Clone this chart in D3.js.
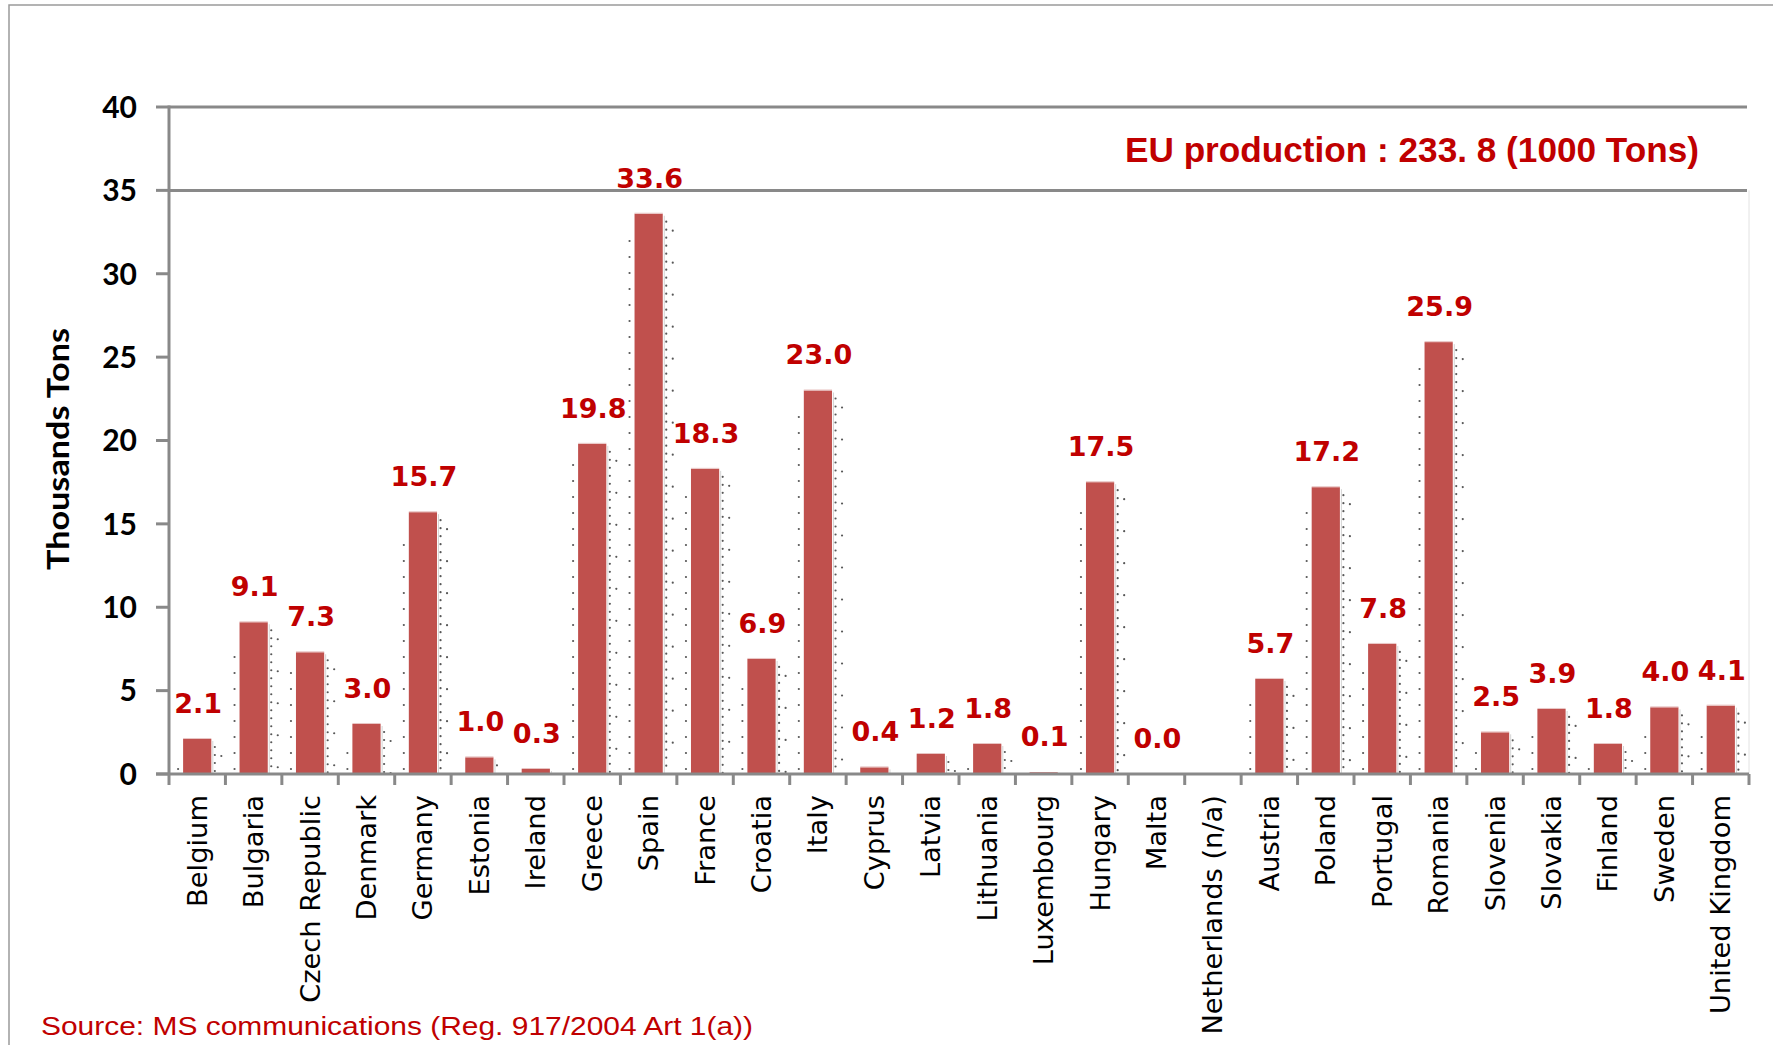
<!DOCTYPE html>
<html><head><meta charset="utf-8">
<script src="https://cdn.jsdelivr.net/npm/d3@7"></script>
<style>html,body{margin:0;padding:0;background:#fff;overflow:hidden}</style>
</head><body>
<svg id="chart" width="1773" height="1045"></svg>
<script>
const categories = ["Belgium","Bulgaria","Czech Republic","Denmark","Germany","Estonia","Ireland","Greece","Spain","France","Croatia","Italy","Cyprus","Latvia","Lithuania","Luxembourg","Hungary","Malta","Netherlands (n/a)","Austria","Poland","Portugal","Romania","Slovenia","Slovakia","Finland","Sweden","United Kingdom"];
const values = [2.1, 9.1, 7.3, 3.0, 15.7, 1.0, 0.3, 19.8, 33.6, 18.3, 6.9, 23.0, 0.4, 1.2, 1.8, 0.1, 17.5, 0.0, null, 5.7, 17.2, 7.8, 25.9, 2.5, 3.9, 1.8, 4.0, 4.1];
const yTicks = [0, 5, 10, 15, 20, 25, 30, 35, 40];
const gridValues = [35, 40];
const yTitle = "Thousands Tons";
const noteText = "EU production : 233. 8 (1000 Tons)";
const sourceText = "Source: MS communications (Reg. 917/2004 Art 1(a))";

const svg = d3.select("#chart");
const axisColor = "#898989";
const red = "#c00000";
const barColor = "#c0504d";

// frame
svg.append("rect").attr("x", 9).attr("y", 5).attr("width", 1800).attr("height", 1100)
  .attr("fill", "none").attr("stroke", "#9a9a9a").attr("stroke-width", 1.5);

const x = d3.scaleBand().domain(categories).range([169, 1749]).padding(0);
const y = d3.scaleLinear().domain([0, 40]).range([774, 107]);
const bw = x.bandwidth();
const barW = bw * 0.5;
const barX = c => x(c) + (bw - barW) / 2;

// faint plot-area right edge
svg.append("line").attr("x1", 1749).attr("x2", 1749).attr("y1", y(35)).attr("y2", y(0))
  .attr("stroke", "#e2e2e2").attr("stroke-width", 1);

// gridlines
svg.append("g").selectAll("line").data(gridValues).join("line")
  .attr("x1", 169).attr("x2", 1747).attr("y1", d => y(d)).attr("y2", d => y(d))
  .attr("stroke", axisColor).attr("stroke-width", 3);

// bars data
const data = categories.map((c, i) => ({c, v: values[i]})).filter(d => d.v !== null);

// dotted shadow artifacts
const dots = [];
data.forEach(d => {
  if (d.v < 0.2) return;
  const top = y(d.v), bot = y(0);
  const l = barX(d.c), r = l + barW;
  for (let yy = top + 8; yy < bot - 1; yy += 8) dots.push([r + 3.5, yy]);
  for (let yy = top + 17; yy < bot - 1; yy += 32) dots.push([r + 10, yy]);
  for (let yy = bot - 5; yy > top + 20; yy -= 16) dots.push([l - 5, yy]);
});
svg.append("g").selectAll("circle").data(dots).join("circle")
  .attr("cx", d => d[0]).attr("cy", d => d[1]).attr("r", 1.1)
  .attr("fill", "#3a3a3a").attr("opacity", 0.85);

// light edge right of bars
svg.append("g").selectAll("line").data(data.filter(d => d.v >= 0.2)).join("line")
  .attr("x1", d => barX(d.c) + barW + 1.5).attr("x2", d => barX(d.c) + barW + 1.5)
  .attr("y1", d => y(d.v) + 2).attr("y2", y(0))
  .attr("stroke", "#d4d4d4").attr("stroke-width", 1);

// bars
svg.append("g").selectAll("rect").data(data).join("rect")
  .attr("x", d => barX(d.c)).attr("width", barW)
  .attr("y", d => y(d.v)).attr("height", d => Math.max(0, y(0) - y(d.v)))
  .attr("fill", barColor);
// top light edge
svg.append("g").selectAll("line").data(data.filter(d => d.v >= 0.2)).join("line")
  .attr("x1", d => barX(d.c)).attr("x2", d => barX(d.c) + barW)
  .attr("y1", d => y(d.v) - 0.5).attr("y2", d => y(d.v) - 0.5)
  .attr("stroke", "#e8c4c3").attr("stroke-width", 1);

// value labels
svg.append("g").selectAll("text").data(data).join("text")
  .attr("x", d => x(d.c) + bw / 2 + 1).attr("y", d => y(d.v) - 26)
  .attr("text-anchor", "middle")
  .attr("font-family", "DejaVu Sans").attr("font-weight", "bold").attr("font-size", 27)
  .attr("fill", red).text(d => d.v.toFixed(1));

// y axis
const yAxis = svg.append("g");
yAxis.append("line").attr("x1", 169).attr("x2", 169).attr("y1", y(40) - 1.5).attr("y2", y(0))
  .attr("stroke", axisColor).attr("stroke-width", 3);
yAxis.selectAll("line.tick").data(yTicks).join("line").attr("class", "tick")
  .attr("x1", 156).attr("x2", 169).attr("y1", d => y(d)).attr("y2", d => y(d))
  .attr("stroke", axisColor).attr("stroke-width", 3);
yAxis.selectAll("text").data(yTicks).join("text")
  .attr("x", 137).attr("y", d => y(d)).attr("dy", "0.36em")
  .attr("text-anchor", "end")
  .attr("font-family", "Lato").attr("font-weight", "bold").attr("font-size", 30)
  .attr("fill", "#000").text(d => d);

// x axis
const xAxis = svg.append("g");
xAxis.append("line").attr("x1", 156).attr("x2", 1749).attr("y1", y(0)).attr("y2", y(0))
  .attr("stroke", axisColor).attr("stroke-width", 3);
const bounds = categories.map(c => x(c)).concat([x(categories[categories.length - 1]) + bw]);
xAxis.selectAll("line.tick").data(bounds).join("line").attr("class", "tick")
  .attr("x1", d => d).attr("x2", d => d).attr("y1", y(0)).attr("y2", y(0) + 11)
  .attr("stroke", axisColor).attr("stroke-width", 3);
xAxis.selectAll("text").data(categories).join("text")
  .attr("transform", c => `translate(${x(c) + bw / 2},795) rotate(-90)`)
  .attr("dy", "0.35em").attr("text-anchor", "end")
  .attr("font-family", "DejaVu Sans").attr("font-size", 27.3)
  .attr("fill", "#000").text(c => c);

// y title
svg.append("text").attr("transform", "translate(69,449) rotate(-90)")
  .attr("text-anchor", "middle")
  .attr("font-family", "Lato").attr("font-weight", "bold").attr("font-size", 30)
  .attr("textLength", 242).attr("lengthAdjust", "spacingAndGlyphs")
  .attr("fill", "#000").text(yTitle);

// EU production note
svg.append("text").attr("x", 1125).attr("y", 162)
  .attr("font-family", "Liberation Sans").attr("font-weight", "bold").attr("font-size", 35)
  .attr("textLength", 574).attr("lengthAdjust", "spacingAndGlyphs")
  .attr("fill", red).text(noteText);

// source
svg.append("text").attr("x", 41).attr("y", 1035)
  .attr("font-family", "Liberation Sans").attr("font-size", 26.5)
  .attr("textLength", 712).attr("lengthAdjust", "spacingAndGlyphs")
  .attr("fill", red).text(sourceText);
</script>
</body></html>
